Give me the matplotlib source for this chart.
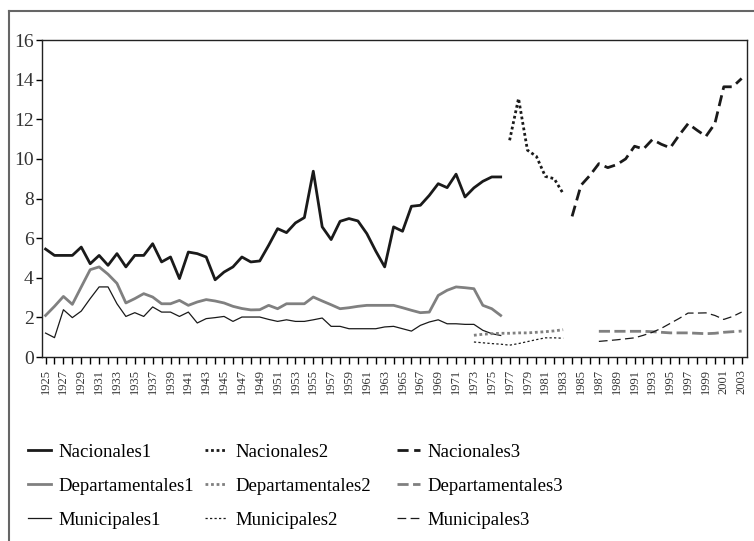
import matplotlib
matplotlib.use("Agg")
import matplotlib.pyplot as plt
from matplotlib.lines import Line2D

import numpy as np

# periods
years1 = list(range(1925, 1977))
years2_nac = list(range(1977, 1984))
years2 = list(range(1973, 1984))
years3_nac = list(range(1984, 2004))
years3 = list(range(1987, 2004))

nacionales1 = [5.45, 5.13, 5.13, 5.13, 5.55, 4.71, 5.13, 4.63, 5.22, 4.55,
               5.13, 5.13, 5.72, 4.80, 5.05, 3.96, 5.30, 5.22, 5.05, 3.90,
               4.29, 4.55, 5.05, 4.80, 4.85, 5.64, 6.48, 6.28, 6.77, 7.04,
               9.38, 6.57, 5.93, 6.85, 6.99, 6.87, 6.23, 5.35, 4.55, 6.57,
               6.35, 7.61, 7.66, 8.16, 8.75, 8.55, 9.23, 8.08, 8.54, 8.87,
               9.09, 9.09]
departamentales1 = [2.10, 2.56, 3.06, 2.66, 3.54, 4.41, 4.55, 4.18, 3.72, 2.73,
                    2.95, 3.20, 3.03, 2.69, 2.69, 2.86, 2.61, 2.78, 2.90, 2.83,
                    2.73, 2.56, 2.45, 2.38, 2.39, 2.61, 2.44, 2.69, 2.69, 2.69,
                    3.03, 2.83, 2.64, 2.44, 2.49, 2.56, 2.61, 2.61, 2.61, 2.61,
                    2.49, 2.36, 2.24, 2.27, 3.11, 3.37, 3.54, 3.50, 3.45, 2.61,
                    2.44, 2.10]
municipales1 = [1.21, 0.98, 2.39, 1.99, 2.32, 2.95, 3.54, 3.54, 2.69, 2.05,
                2.24, 2.05, 2.53, 2.27, 2.27, 2.05, 2.27, 1.72, 1.94, 1.99,
                2.05, 1.80, 2.02, 2.02, 2.02, 1.90, 1.80, 1.88, 1.80, 1.80,
                1.88, 1.97, 1.55, 1.55, 1.43, 1.43, 1.43, 1.43, 1.52, 1.55,
                1.43, 1.31, 1.60, 1.77, 1.88, 1.68, 1.68, 1.65, 1.65, 1.35,
                1.18, 1.09]

nacionales2 = [10.94, 13.05, 10.44, 10.13, 9.12, 9.00, 8.25]
departamentales2 = [1.10, 1.15, 1.18, 1.20, 1.20, 1.22, 1.22, 1.25, 1.28, 1.32, 1.38]
municipales2 = [0.76, 0.72, 0.68, 0.65, 0.60, 0.68, 0.78, 0.88, 0.97, 0.97, 0.95]

nacionales3 = [7.10, 8.67, 9.17, 9.76, 9.56, 9.71, 10.00, 10.64, 10.50, 10.98,
               10.74, 10.56, 11.20, 11.78, 11.45, 11.14, 11.78, 13.64, 13.64, 14.06]
departamentales3 = [1.30, 1.30, 1.30, 1.30, 1.30, 1.30, 1.28, 1.25, 1.22, 1.22,
                    1.22, 1.20, 1.18, 1.20, 1.25, 1.28, 1.31]
municipales3 = [0.79, 0.83, 0.87, 0.92, 0.97, 1.10, 1.25, 1.45, 1.70, 1.95,
                2.22, 2.22, 2.23, 2.10, 1.90, 2.05, 2.27]

dark = "#1a1a1a"
gray = "#808080"

plt.rcParams["font.family"] = ["Liberation Serif", "DejaVu Serif"]

fig = plt.figure(figsize=(7.54, 5.41), dpi=100)
ax = fig.add_axes([0.0557, 0.34, 0.935, 0.586])

# one group per period -> one legend column each
groups = [
    [("Nacionales1", years1, nacionales1, dark, 2.0, "-"),
     ("Departamentales1", years1, departamentales1, gray, 2.0, "-"),
     ("Municipales1", years1, municipales1, dark, 0.9, "-")],
    [("Nacionales2", years2_nac, nacionales2, dark, 2.0, (0, (1, 1))),
     ("Departamentales2", years2, departamentales2, gray, 2.0, (0, (1, 1))),
     ("Municipales2", years2, municipales2, dark, 0.9, (0, (1.8, 1.8)))],
    [("Nacionales3", years3_nac, nacionales3, dark, 2.0, (0, (4, 2))),
     ("Departamentales3", years3, departamentales3, gray, 2.0, (0, (4, 1.6))),
     ("Municipales3", years3, municipales3, dark, 0.9, (0, (7, 3.5)))],
]
legend_x = [28 / 754, 205 / 754, 397 / 754]

for grp, lx in zip(groups, legend_x):
    handles = []
    for name, xs, ys, c, lw, ls in grp:
        ax.plot(xs, ys, color=c, lw=lw, linestyle=ls)
        handles.append(Line2D([], [], color=c, lw=lw, linestyle=ls, label=name))
    fig.legend(handles=handles, loc="upper left", bbox_to_anchor=(lx, 0.180),
               frameon=False, fontsize=13.5, handlelength=1.2,
               handletextpad=0.4, labelspacing=0.9, borderpad=0,
               borderaxespad=0)

ax.set_xlim(1924.6, 2003.6)
ax.set_ylim(0, 16)
ax.set_xticks(np.arange(1925, 2004, 1), minor=True)
ax.set_xticks(np.arange(1925, 2004, 2))
ax.set_xticklabels([str(y) for y in range(1925, 2004, 2)], rotation=90,
                   fontsize=9, color="#333333")
ax.set_yticks(np.arange(0, 17, 2))
ax.tick_params(axis="y", labelsize=14, labelcolor="#333333", length=4, width=1, pad=2)
ax.tick_params(axis="x", which="both", length=5, width=1)
for s in ax.spines.values():
    s.set_linewidth(1)
    s.set_color("#222222")

# outer frame (left and top edges)
fig.add_artist(Line2D([9 / 754, 9 / 754], [0, 1 - 11 / 541],
                      transform=fig.transFigure, color="#666666", lw=1.5))
fig.add_artist(Line2D([9 / 754, 1], [1 - 11 / 541, 1 - 11 / 541],
                      transform=fig.transFigure, color="#666666", lw=1.5))

fig.savefig("out.png", dpi=100)
plt.close(fig)
